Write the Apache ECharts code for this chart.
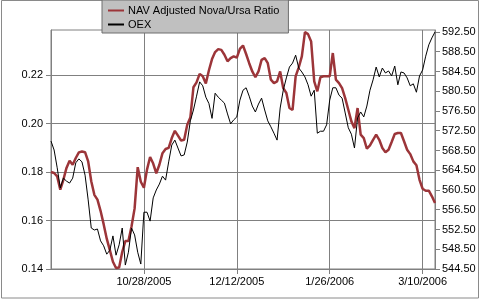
<!DOCTYPE html>
<html>
<head>
<meta charset="utf-8">
<script src="https://cdn.jsdelivr.net/npm/echarts@6/dist/echarts.min.js"></script>
<style>
html,body{margin:0;padding:0;background:#fff;}
#chart{width:480px;height:300px;}
</style>
</head>
<body>
<div id="chart"></div>
<script>
const dates = [
"9/16/2005","9/19/2005","9/20/2005","9/21/2005","9/22/2005","9/23/2005","9/26/2005","9/27/2005","9/28/2005","9/29/2005","9/30/2005",
"10/3/2005","10/4/2005","10/5/2005","10/6/2005","10/7/2005","10/10/2005","10/11/2005","10/12/2005","10/13/2005","10/14/2005","10/17/2005","10/18/2005","10/19/2005","10/20/2005","10/21/2005","10/24/2005","10/25/2005","10/26/2005","10/27/2005","10/28/2005","10/31/2005",
"11/1/2005","11/2/2005","11/3/2005","11/4/2005","11/7/2005","11/8/2005","11/9/2005","11/10/2005","11/11/2005","11/14/2005","11/15/2005","11/16/2005","11/17/2005","11/18/2005","11/21/2005","11/22/2005","11/23/2005","11/25/2005","11/28/2005","11/29/2005","11/30/2005",
"12/1/2005","12/2/2005","12/5/2005","12/6/2005","12/7/2005","12/8/2005","12/9/2005","12/12/2005","12/13/2005","12/14/2005","12/15/2005","12/16/2005","12/19/2005","12/20/2005","12/21/2005","12/22/2005","12/23/2005","12/27/2005","12/28/2005","12/29/2005","12/30/2005",
"1/3/2006","1/4/2006","1/5/2006","1/6/2006","1/9/2006","1/10/2006","1/11/2006","1/12/2006","1/13/2006","1/17/2006","1/18/2006","1/19/2006","1/20/2006","1/23/2006","1/24/2006","1/25/2006","1/26/2006","1/27/2006","1/30/2006","1/31/2006",
"2/1/2006","2/2/2006","2/3/2006","2/6/2006","2/7/2006","2/8/2006","2/9/2006","2/10/2006","2/13/2006","2/14/2006","2/15/2006","2/16/2006","2/17/2006","2/21/2006","2/22/2006","2/23/2006","2/24/2006","2/27/2006","2/28/2006",
"3/1/2006","3/2/2006","3/3/2006","3/6/2006","3/7/2006","3/8/2006","3/9/2006","3/10/2006","3/13/2006","3/14/2006","3/15/2006","3/16/2006"
];

const navRatio = [
0.1800,0.1796,0.1782,0.1727,0.1768,0.1817,0.1847,0.1830,0.1858,0.1881,
0.1885,0.1882,0.1844,0.1762,0.1706,0.1686,0.1640,0.1585,0.1525,0.1478,
0.1430,0.1404,0.1406,0.1470,0.1515,0.1515,0.1575,0.1650,0.1820,0.1760,
0.1735,0.1810,0.1862,0.1835,0.1795,0.1830,0.1878,0.1895,0.1900,0.1940,
0.1970,0.1950,0.1930,0.1933,0.1995,0.2025,0.2150,0.2170,0.2205,0.2195,
0.2165,0.2220,0.2266,0.2295,0.2307,0.2304,0.2284,0.2257,0.2270,0.2277,
0.2272,0.2308,0.2322,0.2287,0.2249,0.2215,0.2191,0.2215,0.2263,0.2270,
0.2249,0.2181,0.2167,0.2174,0.2215,0.2146,0.2126,0.2064,0.2056,0.2195,
0.2232,0.2277,0.2377,0.2369,0.2339,0.2174,0.2133,0.2191,0.2195,0.2195,
0.2195,0.2291,0.2181,0.2167,0.2146,0.2105,0.2057,0.2009,0.1981,0.2064,
0.1954,0.1940,0.1896,0.1910,0.1933,0.1954,0.1933,0.1899,0.1882,0.1892,
0.1924,0.1957,0.1961,0.1961,0.1927,0.1892,0.1874,0.1844,0.1828,0.1768,
0.1731,0.1723,0.1723,0.1700,0.1672
];

const oex = [
570.4,568.6,565.0,560.9,562.9,562.3,561.9,562.9,566.0,566.8,
566.2,563.5,558.5,552.8,552.4,552.6,550.2,549.2,547.5,548.3,
551.2,547.3,549.4,552.8,545.3,547.9,552.8,551.4,547.9,545.5,
556.0,556.0,554.2,558.9,560.5,561.7,563.3,562.5,566.2,569.6,
570.6,569.0,567.4,567.6,570.2,574.5,576.7,579.5,582.4,581.6,
579.3,578.0,575.0,580.1,579.3,578.7,578.1,575.9,573.9,574.7,
575.3,578.7,580.7,581.2,579.5,577.5,576.3,577.9,579.1,576.7,
574.5,573.3,572.0,570.6,577.1,580.7,583.2,585.4,586.2,587.8,
585.2,584.4,583.4,581.8,579.5,580.7,572.0,572.4,572.4,573.7,
578.7,581.2,581.2,579.7,579.1,576.1,573.1,571.8,569.0,575.1,
576.3,575.3,577.5,580.7,582.8,585.4,583.4,585.2,584.2,584.6,
583.6,585.6,581.8,584.4,584.2,583.2,581.6,582.0,580.3,583.6,
584.8,587.6,589.9,591.3,592.5
];

const xTickLabels = ["10/28/2005","12/12/2005","1/26/2006","3/10/2006"];
const leftTicks = [0.14,0.16,0.18,0.20,0.22];
const rightTicks = [544.5,548.5,552.5,556.5,560.5,564.5,568.5,572.5,576.5,580.5,584.5,588.5,592.5];

const seriesNames = ["NAV Adjusted Nova/Ursa Ratio","OEX"];
const FONT = '"Liberation Sans", Arial, sans-serif';
const GRID_C = '#808080';

const showX = (i, v) => xTickLabels.indexOf(dates[i]) >= 0;

const chart = echarts.init(document.getElementById('chart'), null, {renderer:'canvas'});
chart.setOption({
  animation: false,
  backgroundColor: '#ffffff',
  textStyle: {fontFamily: FONT},
  graphic: [{
    type: 'rect', silent: true, z: -1,
    shape: {x: 1.5, y: 0.5, width: 477, height: 297.5},
    style: {fill: null, stroke: '#8a8a8a', lineWidth: 1}
  }],
  legend: {
    orient: 'vertical',
    left: 102, top: 0,
    backgroundColor: '#c0c0c0',
    borderColor: '#6e6e6e', borderWidth: 1, borderRadius: 0,
    padding: [5, 9, 3, 5],
    itemGap: 3,
    itemWidth: 16, itemHeight: 11,
    itemStyle: {opacity: 0},
    textStyle: {fontFamily: FONT, fontSize: 11, color: '#000', padding: [0,0,0,-1]},
    data: seriesNames
  },
  grid: {left: 51, right: 45, top: 30, bottom: 31, show: true, borderColor: GRID_C, borderWidth: 1, containLabel: false},
  xAxis: {
    type: 'category',
    data: dates,
    boundaryGap: false,
    axisLine: {show: true, lineStyle: {color: GRID_C}},
    axisTick: {show: true, interval: showX, length: 5, lineStyle: {color: GRID_C}},
    splitLine: {show: true, interval: showX, lineStyle: {color: GRID_C, width: 1}},
    axisLabel: {interval: showX, color: '#000', fontSize: 11, fontFamily: FONT, margin: 7}
  },
  yAxis: [{
    type: 'value',
    min: 0.14, max: 0.2386, interval: 0.02,
    axisLine: {show: true, lineStyle: {color: GRID_C}},
    axisTick: {show: true, length: 5, customValues: leftTicks, lineStyle: {color: GRID_C}},
    splitLine: {show: true, lineStyle: {color: GRID_C, width: 1}},
    axisLabel: {customValues: leftTicks, color: '#000', fontSize: 11, fontFamily: FONT, margin: 8,
      formatter: v => v.toFixed(2)}
  }, {
    type: 'value',
    min: 544.5, max: 592.9,
    position: 'right',
    axisLine: {show: true, lineStyle: {color: GRID_C}},
    axisTick: {show: true, length: 5, customValues: rightTicks, lineStyle: {color: GRID_C}},
    splitLine: {show: false},
    axisLabel: {customValues: rightTicks, color: '#000', fontSize: 11, fontFamily: FONT, margin: 7,
      formatter: v => v.toFixed(2)}
  }],
  series: [{
    name: seriesNames[0], type: 'line', yAxisIndex: 0,
    data: navRatio, showSymbol: false, symbol: 'none',
    lineStyle: {color: '#9c3539', width: 2.5},
    itemStyle: {color: '#9c3539'},
    z: 2
  }, {
    name: seriesNames[1], type: 'line', yAxisIndex: 1,
    data: oex, showSymbol: false, symbol: 'none',
    lineStyle: {color: '#000', width: 1},
    itemStyle: {color: '#000'},
    z: 3
  }]
});
</script>
</body>
</html>
